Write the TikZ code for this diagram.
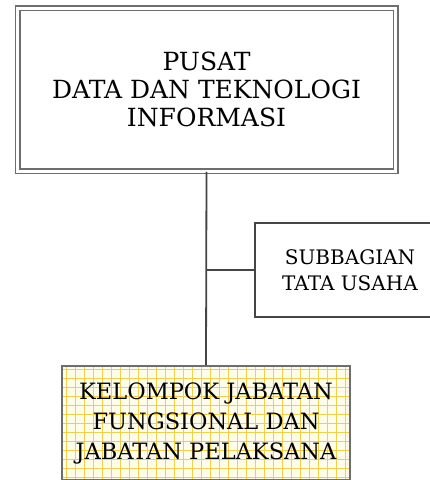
\documentclass[tikz,border=0pt]{standalone}
\usepackage{fontspec}
\setmainfont{DejaVu Serif}
\usepackage{tikz}
\usetikzlibrary{positioning,calc}
\definecolor{boxgray}{HTML}{6E6E6E}
\definecolor{linegray}{HTML}{454545}
\definecolor{gridgold}{HTML}{F0CF4A}
\definecolor{paleyellow}{HTML}{FFFCEA}

\begin{document}
\begin{tikzpicture}[
  x=1pt, y=-1pt,
  unit/.style={draw=linegray, line width=1.8pt, align=center, inner sep=0pt, fill=white},
  head/.style={draw=boxgray, double=white, double distance=3pt, line width=1.5pt,
    align=center, inner sep=0pt, fill=white},
  gridbox/.style={unit, draw=boxgray, fill=paleyellow,
    path picture={\draw[gridgold, line width=0.9pt, step=9pt]
      (path picture bounding box.south west) grid (path picture bounding box.north east);}},
  link/.style={draw=linegray, line width=1.8pt},
]
\useasboundingbox (0,0) rectangle (430,480);
% head of the unit
\node[head, minimum width=378pt, minimum height=163pt,
  font=\fontsize{25}{28}\selectfont] (pusdatin) at (206.5,89.5)
  {PUSAT\\DATA DAN TEKNOLOGI\\INFORMASI};
% staff office on the side
\node[unit, minimum width=190pt, minimum height=94pt,
  font=\fontsize{20}{26}\selectfont] (tu) at (350,270)
  {SUBBAGIAN\\TATA USAHA};
% functional groups below
\node[gridbox, minimum width=288pt, minimum height=114pt,
  font=\fontsize{22.5}{30}\selectfont] (jabfung) at (206,423)
  {KELOMPOK JABATAN\\FUNGSIONAL DAN\\JABATAN PELAKSANA};
\coordinate (cabang) at (pusdatin.south |- tu.west);
\draw[link] (pusdatin.south) -- (jabfung.north);
\draw[link] (cabang) -- (tu.west);
\end{tikzpicture}
\end{document}
